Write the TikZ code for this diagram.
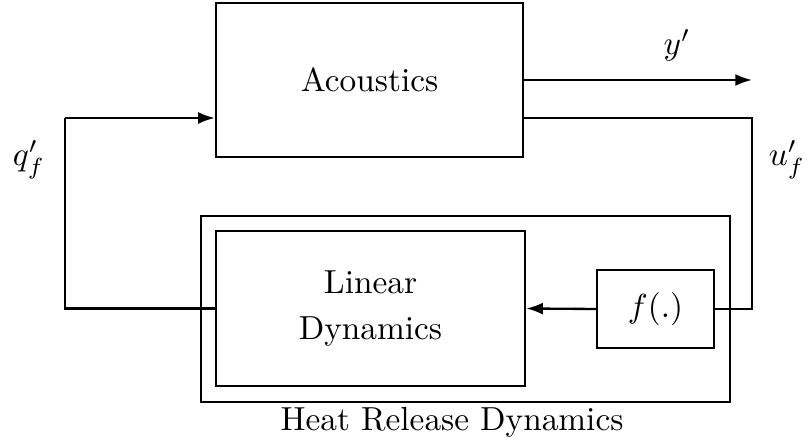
\documentclass[tikz,border=0pt]{standalone}
\usetikzlibrary{arrows.meta}

\tikzset{
  block/.style={draw, line width=0.7pt, align=center, inner sep=0pt},
  sig/.style={line width=0.7pt},
  sigarrow/.style={line width=0.7pt, -{Latex[length=5pt,width=3.6pt]}},
}

\begin{document}
\begin{tikzpicture}[x=0.3pt, y=-0.3pt]

  % --- Rahmen (Pixel der Vorlage) ---
  \useasboundingbox (0,0) rectangle (810,444);

  % --- Bloecke ---
  \node[block, minimum width=92.1pt, minimum height=46.2pt] (acoustics) at (369.5,80) {Acoustics};
  \node[block, minimum width=158.7pt, minimum height=55.8pt] (heat) at (465.5,309) {};
  \node[block, minimum width=92.7pt, minimum height=46.5pt] (linear) at (370.5,308.5) {Linear\\[2pt]Dynamics};
  \node[block, minimum width=35.1pt, minimum height=23.4pt] (fblock) at (655.5,309) {$f(.)$};

  % --- Hilfspunkte ---
  \coordinate (yout) at (752,80);
  \coordinate (uturn) at (752,118);
  \coordinate (qturn) at (65,118);

  % --- Signale ---
  \draw[sigarrow] (acoustics.east) -- (yout);
  \draw[sig] (acoustics.east |- uturn) -- (uturn) |- (fblock.east);
  \draw[sigarrow] (fblock.west) -- (linear.east);
  \draw[sig] (linear.west) -| (qturn);
  \draw[sigarrow] (qturn) -- (acoustics.west |- qturn);

  % --- Beschriftungen ---
  \node (ylabel) at (677,45) {$y'$};
  \node (ulabel) at (787,160) {$u'_f$};
  \node (qlabel) at (29,160) {$q'_f$};
  \node[anchor=north, inner sep=1.5pt] (heatlabel) at (452,402) {Heat Release Dynamics};

\end{tikzpicture}
\end{document}
